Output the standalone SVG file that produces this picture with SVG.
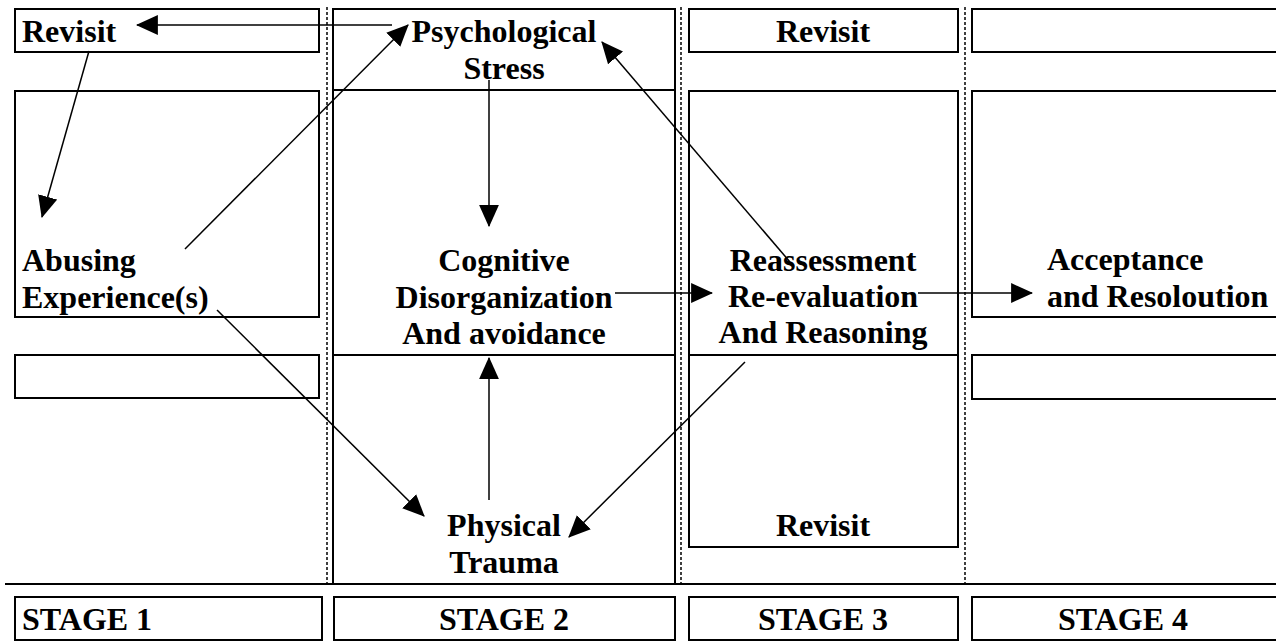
<svg xmlns="http://www.w3.org/2000/svg" width="1276" height="644" viewBox="0 0 1276 644">
<style>
.box{fill:none;stroke:#000;stroke-width:2}
.div{stroke:#000;stroke-width:1.5;stroke-dasharray:3 2}
.t{font-family:"Liberation Serif","Times New Roman",serif;font-weight:bold;font-size:32px;fill:#000}
.m{text-anchor:middle}
.c{stroke:#000;stroke-width:1.5;fill:none;marker-end:url(#ah)}
</style>
<defs>
<marker id="ah" markerUnits="userSpaceOnUse" markerWidth="22" markerHeight="20" viewBox="0 0 20 18" refX="19" refY="9" orient="auto">
<path d="M0,0 L20,9 L0,18 z" fill="#000"/>
</marker>
</defs>
<rect width="1276" height="644" fill="#fff"/>
<g id="dividers">
<line class="div" x1="327" y1="7" x2="327" y2="584"/>
<line class="div" x1="681" y1="7" x2="681" y2="584"/>
<line class="div" x1="965" y1="7" x2="965" y2="584"/>
<line x1="5" y1="584" x2="1276" y2="584" stroke="#000" stroke-width="2"/>
</g>
<g id="stage1">
<rect class="box" x="15" y="9" width="304" height="43"/>
<text class="t" x="22" y="42">Revisit</text>
<rect class="box" x="15" y="91" width="304" height="226"/>
<text class="t" x="22" y="271">Abusing</text>
<text class="t" x="22" y="308">Experience(s)</text>
<rect class="box" x="15" y="355" width="304" height="43"/>
</g>
<g id="stage2">
<rect class="box" x="333" y="9" width="342" height="575"/>
<line class="box" x1="333" y1="90" x2="675" y2="90"/>
<line class="box" x1="333" y1="355" x2="675" y2="355"/>
<text class="t m" x="504" y="42">Psychological</text>
<text class="t m" x="504" y="79">Stress</text>
<text class="t m" x="504" y="271">Cognitive</text>
<text class="t m" x="504" y="308">Disorganization</text>
<text class="t m" x="504" y="344">And avoidance</text>
<text class="t m" x="504" y="536">Physical</text>
<text class="t m" x="504" y="573">Trauma</text>
</g>
<g id="stage3">
<rect class="box" x="689" y="9" width="269" height="43"/>
<text class="t m" x="823" y="42">Revisit</text>
<rect class="box" x="689" y="91" width="269" height="456"/>
<line class="box" x1="689" y1="355" x2="958" y2="355"/>
<text class="t m" x="823" y="271">Reassessment</text>
<text class="t m" x="823" y="307">Re-evaluation</text>
<text class="t m" x="823" y="343">And Reasoning</text>
<text class="t m" x="823" y="536">Revisit</text>
</g>
<g id="stage4">
<rect class="box" x="972" y="9" width="310" height="43"/>
<rect class="box" x="972" y="91" width="310" height="226"/>
<text class="t" x="1047" y="270">Acceptance</text>
<text class="t" x="1047" y="307">and Resoloution</text>
<rect class="box" x="972" y="355" width="310" height="44"/>
</g>
<g id="labels">
<rect class="box" x="15" y="597" width="307" height="43"/>
<text class="t" x="22" y="630">STAGE 1</text>
<rect class="box" x="334" y="597" width="341" height="43"/>
<text class="t m" x="504" y="630">STAGE 2</text>
<rect class="box" x="689" y="597" width="269" height="43"/>
<text class="t m" x="823" y="630">STAGE 3</text>
<rect class="box" x="972" y="597" width="310" height="43"/>
<text class="t m" x="1123" y="630">STAGE 4</text>
</g>
<g id="connectors">
<line class="c" x1="392" y1="25" x2="137" y2="25"/>
<line class="c" x1="89" y1="51" x2="42" y2="217"/>
<line class="c" x1="185" y1="249" x2="408" y2="25"/>
<line class="c" x1="489" y1="80" x2="489" y2="226"/>
<line class="c" x1="489" y1="500" x2="489" y2="358"/>
<line class="c" x1="217" y1="310" x2="424" y2="516"/>
<line class="c" x1="745" y1="362" x2="569" y2="537"/>
<line class="c" x1="790" y1="262" x2="602" y2="42"/>
<line class="c" x1="615" y1="293" x2="712" y2="293"/>
<line class="c" x1="918" y1="293" x2="1032" y2="293"/>
</g>
</svg>
